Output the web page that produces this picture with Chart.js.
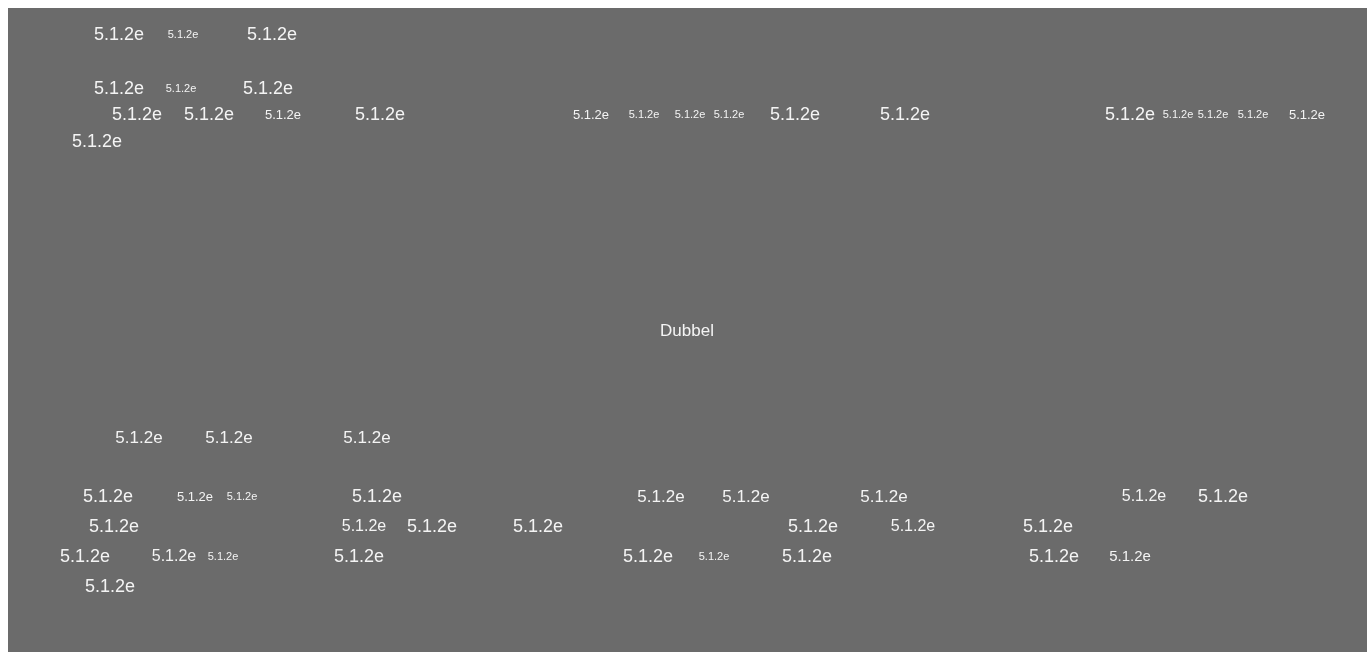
<!DOCTYPE html>
<html>
<head>
<meta charset="utf-8">
<script src="https://cdn.jsdelivr.net/npm/chart.js@4/dist/chart.umd.min.js"></script>
<style>
  html, body { margin: 0; padding: 0; background: #ffffff; overflow: hidden; }
  #wrap { position: absolute; left: 8px; top: 8px; width: 1359px; height: 644px; }
</style>
</head>
<body>
<div id="wrap"><canvas id="c"></canvas></div>
<script>
// Word positions (x, y in picture units) and weights (font size)
const words = ["5.1.2e","5.1.2e","5.1.2e","5.1.2e","5.1.2e","5.1.2e","5.1.2e","5.1.2e","5.1.2e","5.1.2e",
  "5.1.2e","5.1.2e","5.1.2e","5.1.2e","5.1.2e","5.1.2e","5.1.2e","5.1.2e","5.1.2e","5.1.2e","5.1.2e","5.1.2e",
  "5.1.2e","5.1.2e","5.1.2e","5.1.2e","5.1.2e","5.1.2e","5.1.2e","5.1.2e","5.1.2e","5.1.2e","5.1.2e","5.1.2e",
  "5.1.2e","5.1.2e","5.1.2e","5.1.2e","5.1.2e","5.1.2e","5.1.2e","5.1.2e","5.1.2e","5.1.2e","5.1.2e","5.1.2e",
  "5.1.2e","5.1.2e","5.1.2e","5.1.2e","5.1.2e"];
const wordX = [119,183,272, 119,181,268, 137,209,283,380, 591,644,690,729,795,905, 1130,1178,1213,1253,1307, 97,
  139,229,367, 108,195,242,377,661,746,884,1144,1223,
  114,364,432,538,813,913,1048,
  85,174,223,359,648,714,807,1054,1130,
  110];
const wordY = [35,35,35, 89,89,89, 115,115,115,115, 115,115,115,115,115,115, 115,115,115,115,115, 142,
  438,438,438, 497,497,497,497,497,497,497,497,497,
  527,527,527,527,527,527,527,
  557,557,557,557,557,557,557,557,557,
  587];
const wordWeight = [18,11,18, 18,11,18, 18,18,13,18, 13,11,11,11,18,18, 18,11,11,11,13, 18,
  17,17,17, 18,13,11,18,17,17,17,16,18,
  18,16,18,18,18,16,18,
  18,16,11,18,18,11,18,18,15,
  18];
const centerLabel = ["Dubbel"];
const centerX = [687];
const centerY = [331];
const centerWeight = [17];

const wordPoints = wordX.map((x, i) => ({ x: x, y: wordY[i] }));
const centerPoints = centerX.map((x, i) => ({ x: x, y: centerY[i] }));

const bgPlugin = {
  id: 'bg',
  beforeDraw(chart) {
    const ctx = chart.ctx;
    ctx.save();
    ctx.fillStyle = '#6b6b6b';
    ctx.fillRect(0, 0, chart.width, chart.height);
    ctx.restore();
  }
};

const textPlugin = {
  id: 'wordText',
  afterDatasetsDraw(chart) {
    const ctx = chart.ctx;
    chart.data.datasets.forEach((ds, di) => {
      const meta = chart.getDatasetMeta(di);
      meta.data.forEach((el, i) => {
        ctx.save();
        ctx.fillStyle = '#f4f4f4';
        ctx.textAlign = 'center';
        ctx.textBaseline = 'middle';
        ctx.font = ds.weights[i] + 'px Arial, "Liberation Sans", sans-serif';
        ctx.fillText(ds.texts[i], el.x, el.y);
        ctx.restore();
      });
    });
  }
};

new Chart(document.getElementById('c'), {
  type: 'scatter',
  data: {
    datasets: [
      { data: wordPoints, texts: words, weights: wordWeight, pointRadius: 0, pointHoverRadius: 0 },
      { data: centerPoints, texts: centerLabel, weights: centerWeight, pointRadius: 0, pointHoverRadius: 0 }
    ]
  },
  options: {
    responsive: true,
    maintainAspectRatio: false,
    animation: false,
    layout: { padding: 0 },
    plugins: { legend: { display: false }, tooltip: { enabled: false }, title: { display: false } },
    scales: {
      x: { type: 'linear', min: 8, max: 1367, display: false },
      y: { type: 'linear', min: 8, max: 652, reverse: true, display: false }
    }
  },
  plugins: [bgPlugin, textPlugin]
});
</script>
</body>
</html>
